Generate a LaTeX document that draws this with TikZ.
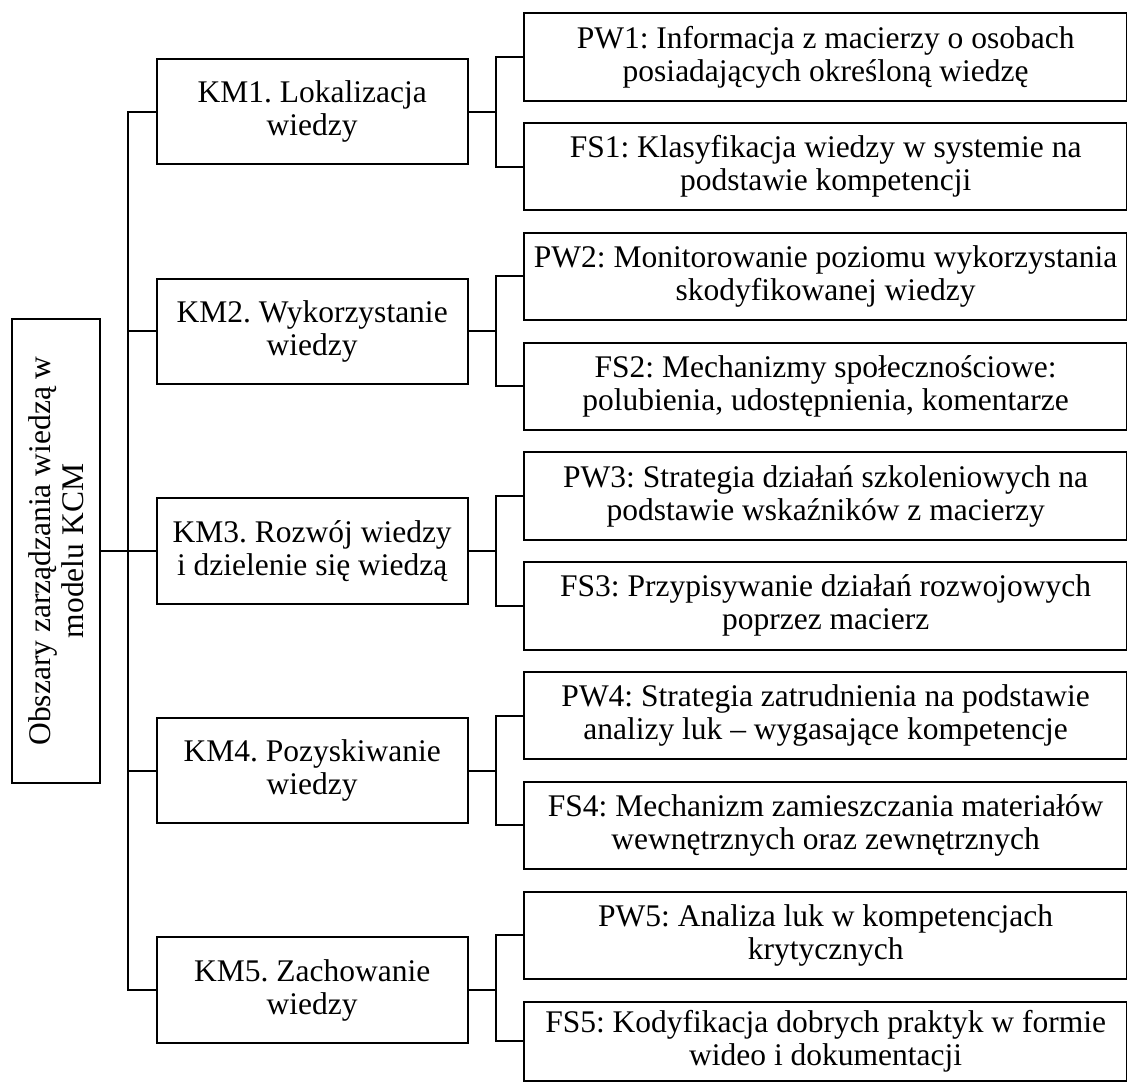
\documentclass[tikz,border=0pt]{standalone}
\usepackage{fontspec}
\setmainfont{Liberation Serif}
\frenchspacing
\begin{document}
\begin{tikzpicture}[x=1pt,y=-1pt,
  box/.style={draw=black, line width=2pt, rectangle, inner sep=0pt, align=center,
              font=\fontsize{31.5}{33}\selectfont},
  rootbox/.style={box, rotate=90, minimum width=463.4pt, minimum height=88.3pt},
  kmbox/.style={box, minimum width=311pt, minimum height=105.5pt},
  leafbox/.style={box, minimum width=602.7pt, minimum height=87.5pt},
  link/.style={draw=black, line width=2pt, line join=miter}]

\useasboundingbox (0,0) rectangle (1127,1083);

% root
\node[rootbox] (root) at (55.85,551) {Obszary zarządzania wiedzą w\\modelu KCM};

% knowledge management areas
\node[kmbox] (km1) at (312.2,111.75) {KM1. Lokalizacja\\wiedzy};
\node[kmbox] (km2) at (312.2,331.35) {KM2. Wykorzystanie\\wiedzy};
\node[kmbox] (km3) at (312.2,550.95) {KM3. Rozwój wiedzy\\i dzielenie się wiedzą};
\node[kmbox] (km4) at (312.2,770.55) {KM4. Pozyskiwanie\\wiedzy};
\node[kmbox] (km5) at (312.2,990.15) {KM5. Zachowanie\\wiedzy};

% process and system features
\node[leafbox] (pw1) at (825.65,56.85)  {PW1: Informacja z macierzy o osobach\\posiadających określoną wiedzę};
\node[leafbox] (fs1) at (825.65,166.65) {FS1: Klasyfikacja wiedzy w systemie na\\podstawie kompetencji};
\node[leafbox] (pw2) at (825.65,276.45) {PW2: Monitorowanie poziomu wykorzystania\\skodyfikowanej wiedzy};
\node[leafbox] (fs2) at (825.65,386.25) {FS2: Mechanizmy społecznościowe:\\polubienia, udostępnienia, komentarze};
\node[leafbox] (pw3) at (825.65,496.05) {PW3: Strategia działań szkoleniowych na\\podstawie wskaźników z macierzy};
\node[leafbox] (fs3) at (825.65,605.85) {FS3: Przypisywanie działań rozwojowych\\poprzez macierz};
\node[leafbox] (pw4) at (825.65,715.65) {PW4: Strategia zatrudnienia na podstawie\\analizy luk – wygasające kompetencje};
\node[leafbox] (fs4) at (825.65,825.45) {FS4: Mechanizm zamieszczania materiałów\\wewnętrznych oraz zewnętrznych};
\node[leafbox] (pw5) at (825.65,935.25) {PW5: Analiza luk w kompetencjach\\krytycznych};
\node[leafbox, minimum height=79pt] (fs5) at (825.65,1041) {FS5: Kodyfikacja dobrych praktyk w formie\\wideo i dokumentacji};

% vertical rails
\coordinate (trunk) at (128.3,0);
\coordinate (fork) at (496,0);

% root to areas
\draw[link] (root.south) -- (root.south -| trunk);
\draw[link] (km1.west) -- (km1.west -| trunk) -- (km5.west -| trunk) -- (km5.west);
\foreach \k in {2,3,4} {
  \draw[link] (km\k.west) -- (km\k.west -| trunk);
}

% areas to features
\foreach \k in {1,...,5} {
  \draw[link] (km\k.east) -- (km\k.east -| fork);
  \draw[link] (pw\k.west) -- (pw\k.west -| fork) -- (fs\k.west -| fork) -- (fs\k.west);
}
\end{tikzpicture}
\end{document}
